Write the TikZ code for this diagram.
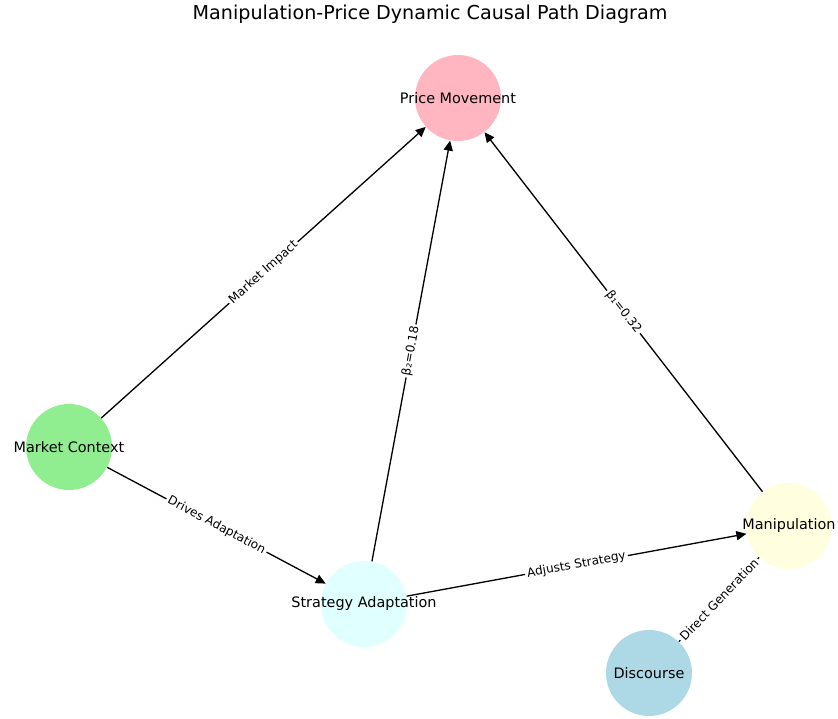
\documentclass[tikz,border=0pt]{standalone}
\usepackage{fontspec}
\setmainfont{DejaVu Sans}
\usetikzlibrary{arrows.meta}
\definecolor{pricepink}{HTML}{FFB6C1}
\definecolor{marketgreen}{HTML}{90EE90}
\definecolor{strategycyan}{HTML}{E0FFFF}
\definecolor{manipyellow}{HTML}{FFFFE0}
\definecolor{discourseblue}{HTML}{ADD8E6}
\tikzstyle{factor} = [circle, minimum size=1.72cm, inner sep=0pt, draw=none]
\tikzstyle{edge} = [line width=0.75pt, -{Triangle[length=5.7pt, width=5.2pt]}]
\tikzstyle{weight} = [midway, sloped, fill=white, inner sep=1.2pt, font=\fontsize{6.9}{8}\selectfont]

\begin{document}
\begin{tikzpicture}[x=0.02cm, y=-0.02cm, every label/.style={font=\fontsize{8.2}{10}\selectfont, inner sep=0pt}]

\useasboundingbox (0,0) rectangle (838,719);

\node (title) at (430,14) {\fontsize{10.9}{13}\selectfont Manipulation-Price Dynamic Causal Path Diagram};

\node (0) [factor, fill=pricepink, label=center:Price Movement] at (458,98) {};
\node (1) [factor, fill=marketgreen, label=center:Market Context] at (69,447) {};
\node (2) [factor, fill=strategycyan, label=center:Strategy Adaptation] at (364,604) {};
\node (3) [factor, fill=manipyellow, label=center:Manipulation] at (789,526) {};
\node (4) [factor, fill=discourseblue, label=center:Discourse] at (649,673) {};

\draw [edge] (1) -- node[weight]{Market Impact} (0);
\draw [edge] (2) -- node[weight]{β₂=0.18} (0);
\draw [edge] (3) -- node[weight]{β₁=0.32} (0);
\draw [edge] (1) -- node[weight]{Drives Adaptation} (2);
\draw [edge] (2) -- node[weight]{Adjusts Strategy} (3);
\draw [line width=0.75pt] (4) -- node[weight]{Direct Generation} (3);

\end{tikzpicture}
\end{document}
